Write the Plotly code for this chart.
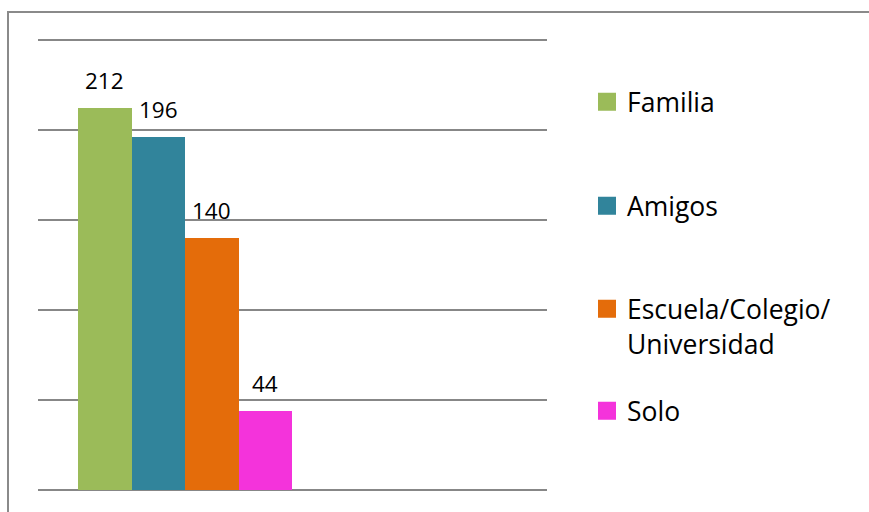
import plotly.graph_objects as go

categories = ["Familia", "Amigos", "Escuela/Colegio/<br>Universidad", "Solo"]
values = [212, 196, 140, 44]
colors = ["#9BBB59", "#31849B", "#E46C0A", "#F433DB"]
grid_ticks = [0, 50, 100, 150, 200, 250]

W, H = 869, 512
EXT = 3  # px of extra plot area so edge gridlines are drawn
L, R, T, B = 38, 322, 40 - EXT, 22 - EXT
pw, ph = W - L - R, H - T - B
upp = 250 / (ph - 2 * EXT)  # data units per pixel
y_range = [-EXT * upp, 250 + EXT * upp]

def px2paper_x(px):
    return (px - L) / pw

def px2paper_y(py):
    return (H - B - py) / ph

fig = go.Figure()
legend_names = ["legend", "legend2", "legend3", "legend4"]
for cat, val, col, lg in zip(categories, values, colors, legend_names):
    fig.add_trace(go.Bar(x=[cat], y=[val], marker=dict(color=col, line=dict(width=0)),
                         showlegend=False, hoverinfo="skip"))
    fig.add_trace(go.Scatter(x=[None], y=[None], mode="markers", name=cat,
                             marker=dict(symbol="square", size=16, color=col,
                                         line=dict(color=col, width=2)),
                             legend=lg, showlegend=True))
    fig.add_annotation(x=cat, y=val, text=str(val), showarrow=False, yanchor="bottom",
                       yshift=10, font=dict(family="Open Sans", size=22.5, color="#000"))

legend_tops = [78, 182, 285, 387]
layout_legends = {}
for lg, top in zip(legend_names, legend_tops):
    layout_legends[lg] = dict(x=px2paper_x(587), xanchor="left", y=px2paper_y(top), yanchor="top",
                              font=dict(family="Open Sans", size=26.5, color="#000"),
                              bgcolor="rgba(0,0,0,0)", valign="top", itemsizing="trace")

fig.update_layout(
    width=W, height=H,
    margin=dict(l=L, r=R, t=T, b=B, pad=0),
    paper_bgcolor="white", plot_bgcolor="white",
    barmode="overlay", bargap=0,
    xaxis=dict(type="category", categoryorder="array", categoryarray=categories,
               range=[-1.248, 8.266], showticklabels=False, showgrid=False,
               zeroline=False, showline=False, ticks=""),
    yaxis=dict(range=y_range, tickvals=grid_ticks, showticklabels=False, showgrid=True,
               gridcolor="#878787", gridwidth=2, zeroline=False, showline=False, ticks=""),
    shapes=[dict(type="rect", xref="paper", yref="paper",
                 x0=px2paper_x(8), x1=px2paper_x(900), y0=px2paper_y(540), y1=px2paper_y(12),
                 line=dict(color="#8a8a8a", width=2), fillcolor="rgba(0,0,0,0)", layer="below")],
    **layout_legends,
)

fig.write_html("out.html", config={"displayModeBar": False},
               post_script="document.body.style.margin='0';")
